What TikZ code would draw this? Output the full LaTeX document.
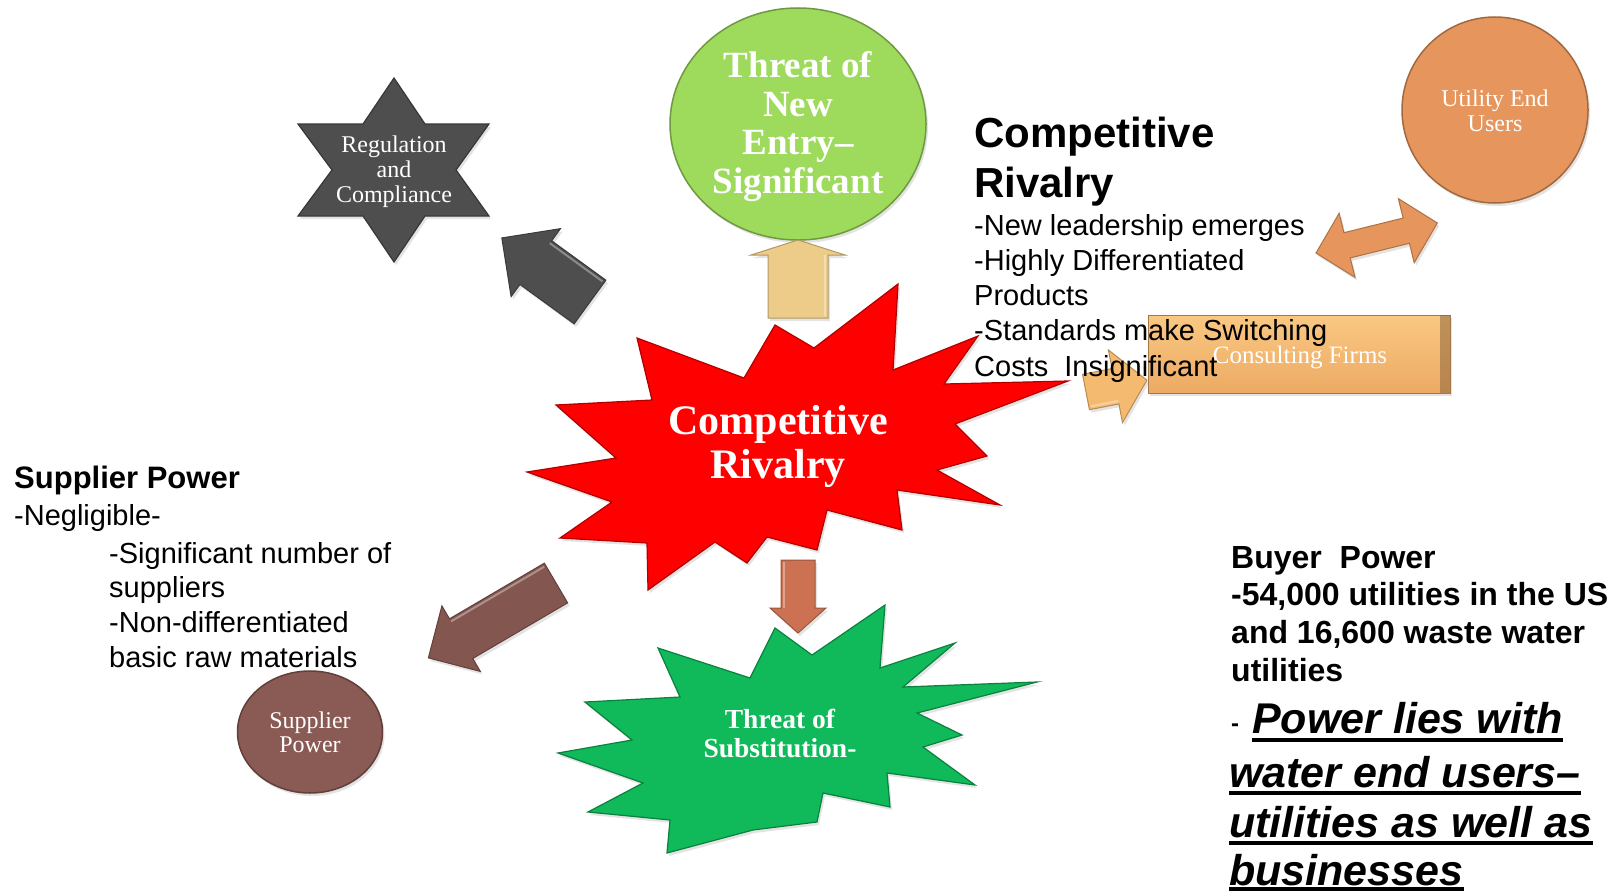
\documentclass[tikz,border=0pt]{standalone}
\usepackage{fontspec}
\setmainfont{Liberation Serif}
\newfontfamily\arialf{Liberation Sans}
\usetikzlibrary{shapes.geometric,shadows}
\definecolor{cRed}{RGB}{255,0,0}
\definecolor{cGreenStar}{RGB}{16,185,90}
\definecolor{cGreenCirc}{RGB}{158,218,92}
\definecolor{cGray}{RGB}{78,78,78}
\definecolor{cTan}{RGB}{236,204,136}
\definecolor{cCopper}{RGB}{204,114,82}
\definecolor{cBrown}{RGB}{132,86,80}
\definecolor{cOrange}{RGB}{230,150,92}
\definecolor{cLtOrange}{RGB}{244,186,112}
\definecolor{cBoxTop}{RGB}{250,200,130}
\definecolor{cBoxBot}{RGB}{236,170,100}
\definecolor{cSupp}{RGB}{138,90,84}
\tikzset{
  shade3d/.style={drop shadow={opacity=0.22,shadow xshift=2pt,shadow yshift=-3pt}},
  body/.style={font=\arialf\fontsize{29}{35}\selectfont,anchor=base west,inner sep=0pt},
  bodyb/.style={font=\arialf\bfseries\fontsize{31}{35}\selectfont,anchor=base west,inner sep=0pt},
  titleb/.style={font=\arialf\bfseries\fontsize{42}{50}\selectfont,anchor=base west,inner sep=0pt},
  buyb/.style={font=\arialf\bfseries\fontsize{32}{38}\selectfont,anchor=base west,inner sep=0pt},
  bigit/.style={font=\arialf\bfseries\itshape\fontsize{43}{50}\selectfont,anchor=base west,inner sep=0pt},
  ulline/.style={line width=4pt},
  lab/.style={text=white,align=center,inner sep=0pt},
}
% block arrow: tail x, tail y, angle, length, shaft half width, head half width, head length, colour
\newcommand\blockarr[8]{%
  \begin{scope}[shift={(#1,#2)},rotate=#3]
    \fill[#8,draw=#8!75!black,line width=1pt,shade3d]
      (0,#5) -- ({#4-#7},#5) -- ({#4-#7},#6) -- (#4,0) -- ({#4-#7},-#6) -- ({#4-#7},-#5) -- (0,-#5) -- cycle;
    \draw[white,opacity=0.35,line width=2pt] (2,{#5-3}) -- ({#4-#7},{#5-3});
  \end{scope}}
% double block arrow: left tip x, y, angle, length, shaft hw, head hw, head length, colour
\newcommand\dblarr[8]{%
  \begin{scope}[shift={(#1,#2)},rotate=#3]
    \fill[#8,draw=#8!75!black,line width=1pt,shade3d]
      (0,0) -- (#7,#6) -- (#7,#5) -- ({#4-#7},#5) -- ({#4-#7},#6) -- (#4,0) -- ({#4-#7},-#6) -- ({#4-#7},-#5) -- (#7,-#5) -- (#7,-#6) -- cycle;
  \end{scope}}
\begin{document}
\begin{tikzpicture}[x=1pt,y=-1pt]
\useasboundingbox (0,0) rectangle (1619,891);
\fill[white] (0,0) rectangle (1619,891);

% ---------- Threat of new entry (green circle) ----------
\node[ellipse,minimum width=256pt,minimum height=232pt,fill=cGreenCirc,draw=cGreenCirc!70!black,line width=1.5pt,shade3d] (entry) at (798,124) {};
\node[lab,font=\bfseries\fontsize{37}{38.5}\selectfont] (entrytxt) at (798,126.5) {Threat of\\New\\Entry–\\Significant};

% up arrow (tan)
\blockarr{798}{318}{90}{78}{30}{47}{15}{cTan}

% ---------- Competitive rivalry red star ----------
\draw[fill=cRed,draw=cRed!70!black,line width=1.2pt,shade3d]
 (527,472) -- (616,458) -- (556,405) -- (652,400) -- (637,338) -- (744,378) -- (775,325) -- (814,348)
 -- (898,284) -- (893,370) -- (978,336) -- (944,384) -- (1068,381) -- (955,424) -- (987,456) -- (937,470)
 -- (1000,505) -- (897,490) -- (902,530) -- (827,510) -- (817,550) -- (767,537) -- (747,563) -- (715,542)
 -- (648,590) -- (647,543) -- (560,538) -- (612,502) -- cycle;
\node[lab,font=\bfseries\fontsize{42}{44}\selectfont] (rivtxt) at (778,446) {Competitive\\Rivalry};

% ---------- Threat of substitution green star ----------
\draw[fill=cGreenStar,draw=cGreenStar!70!black,line width=1.2pt,shade3d]
 (658,648) -- (750,678) -- (775,628) -- (812,655) -- (885,605) -- (880,668) -- (955,643) -- (903,687)
 -- (1037,682) -- (917,713) -- (962,735) -- (923,747) -- (975,785) -- (887,773) -- (890,807) -- (823,793)
 -- (817,822) -- (753,830) -- (667,853) -- (670,820) -- (588,812) -- (643,783) -- (558,753) -- (632,740)
 -- (585,702) -- (680,697) -- cycle;
\node[lab,font=\bfseries\fontsize{27.5}{29}\selectfont] (subtxt) at (780,733) {Threat of\\Substitution-};

% down arrow (copper)
\blockarr{798}{560}{-90}{73}{17}{28}{25}{cCopper}

% ---------- Regulation star ----------
\draw[fill=cGray,draw=cGray!70!black,line width=1.2pt,shade3d]
 (394,78) -- (425,124) -- (489,124) -- (456,170) -- (489,216) -- (425,216) -- (394,262) -- (363,216)
 -- (298,216) -- (332,170) -- (298,124) -- (363,124) -- cycle;
\node[lab,font=\fontsize{24}{25}\selectfont] (regtxt) at (394,172) {Regulation\\and\\Compliance};

% gray arrow
\blockarr{590}{302}{144}{109}{27}{42}{42}{cGray}

% ---------- Supplier power ----------
\node[ellipse,minimum width=145pt,minimum height=122pt,fill=cSupp,draw=cSupp!70!black,line width=1.5pt,shade3d] (supp) at (310,732) {};
\node[lab,font=\fontsize{24}{24}\selectfont] (supptxt) at (310,732) {Supplier\\Power};
\blockarr{556}{583}{210.4}{148}{23}{38}{38}{cBrown}

% ---------- Utility end users ----------
\node[circle,minimum size=186pt,fill=cOrange,draw=cOrange!70!black,line width=1.5pt,shade3d] (util) at (1495,110) {};
\node[lab,font=\fontsize{24}{25}\selectfont] (utiltxt) at (1495,111) {Utility End\\Users};
\dblarr{1316}{253}{13.9}{125}{13}{33}{32}{cOrange}

% ---------- Consulting firms ----------
\node[rectangle,minimum width=302pt,minimum height=78pt,top color=cBoxTop,bottom color=cBoxBot,draw=cBoxBot!70!black,line width=1pt,shade3d] (cons) at (1299,354) {};
\fill[cBoxBot!60!black,opacity=0.55] (1440,315) rectangle (1450,393);
\node[text=white,inner sep=0pt,anchor=base,font=\fontsize{25}{25}\selectfont] (constxt) at (1300,363) {Consulting Firms};
\blockarr{1086}{392}{11}{62}{18}{37}{32}{cLtOrange}

% ---------- Text: competitive rivalry ----------
\node[titleb] (cr1) at (974,147) {Competitive};
\node[titleb] (cr2) at (974,197) {Rivalry};
\node[body] (cr3) at (974,235) {-New leadership emerges};
\node[body] (cr4) at (974,270) {-Highly Differentiated};
\node[body] (cr5) at (974,305) {Products};
\node[body] (cr6) at (974,340) {-Standards make Switching};
\node[body] (cr7) at (974,376) {Costs\ \ Insignificant};

% ---------- Text: supplier power ----------
\node[bodyb] (sp1) at (14,488) {Supplier Power};
\node[body] (sp2) at (14,525) {-Negligible-};
\node[body] (sp3) at (109,563) {-Significant number of};
\node[body] (sp4) at (109,597) {suppliers};
\node[body] (sp5) at (109,632) {-Non-differentiated};
\node[body] (sp6) at (109,667) {basic raw materials};

% ---------- Text: buyer power ----------
\node[buyb] (bp1) at (1231,568) {Buyer\ \ Power};
\node[buyb] (bp2) at (1231,605) {-54,000 utilities in the US};
\node[buyb] (bp3) at (1231,643) {and 16,600 waste water};
\node[buyb] (bp4) at (1231,681) {utilities};
\node[buyb,font=\arialf\bfseries\fontsize{24}{24}\selectfont] (bp5) at (1231,731) {-};
\node[bigit] (bp6) at (1252,733) {Power lies with};
\node[bigit] (bp7) at (1229,787) {water end users–};
\node[bigit] (bp8) at (1229,837) {utilities as well as};
\node[bigit] (bp9) at (1229,885) {businesses};
\draw[ulline] ([yshift=-7pt]bp6.base west) -- ([yshift=-7pt]bp6.base east);
\draw[ulline] ([yshift=-6pt]bp7.base west) -- ([yshift=-6pt]bp7.base east);
\draw[ulline] ([yshift=-6pt]bp8.base west) -- ([yshift=-6pt]bp8.base east);
\draw[ulline] ([yshift=-4pt]bp9.base west) -- ([yshift=-4pt]bp9.base east);
\end{tikzpicture}
\end{document}
